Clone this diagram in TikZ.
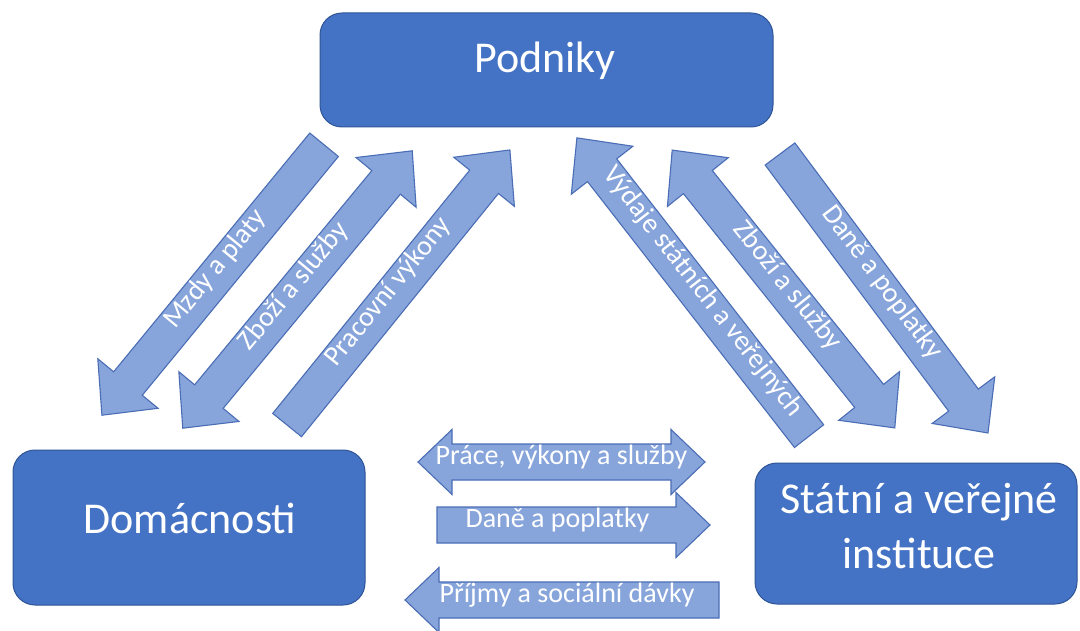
\documentclass[tikz,border=0pt]{standalone}
\usepackage{fontspec}
\setmainfont{Carlito}
\definecolor{boxblue}{HTML}{4472C4}
\definecolor{boxline}{HTML}{2F5597}
\definecolor{arrowfill}{HTML}{87A5DB}
\definecolor{arrowline}{HTML}{4A6DB5}
\tikzset{
  boxnode/.style={draw=boxline, line width=1pt, fill=boxblue, rounded corners=22pt, inner sep=0pt},
  boxtext/.style={text=white, font=\fontsize{44}{55}\selectfont, inner sep=0pt},
  arrowshape/.style={draw=arrowline, fill=arrowfill, line width=1.1pt, line join=miter},
  arrowtext/.style={text=white, font=\fontsize{28}{32}\selectfont, inner sep=0pt,
    text height=0.62em, text depth=0.12em}
}
% #1 name, #2 centre, #3 angle, #4 half length, #5 type (0 head at +x, 1 head at -x, 2 both), #6 text offset, #7 text
\newcommand{\BArrow}[7]{%
  \begin{scope}[shift={#2}, rotate=#3]
    \ifcase#5
      \draw[arrowshape] (-#4,-\sw) -- ({#4-\hl},-\sw) -- ({#4-\hl},-\hw) -- (#4,0)
        -- ({#4-\hl},\hw) -- ({#4-\hl},\sw) -- (-#4,\sw) -- cycle;
    \or
      \draw[arrowshape] (#4,-\sw) -- ({-#4+\hl},-\sw) -- ({-#4+\hl},-\hw) -- (-#4,0)
        -- ({-#4+\hl},\hw) -- ({-#4+\hl},\sw) -- (#4,\sw) -- cycle;
    \or
      \draw[arrowshape] (-#4,0) -- ({-#4+\hl},-\hw) -- ({-#4+\hl},-\sw) -- ({#4-\hl},-\sw)
        -- ({#4-\hl},-\hw) -- (#4,0) -- ({#4-\hl},\hw) -- ({#4-\hl},\sw)
        -- ({-#4+\hl},\sw) -- ({-#4+\hl},\hw) -- cycle;
    \fi
    \node[arrowtext, transform shape] (#1) at (#6,0) {#7};
  \end{scope}}

\begin{document}
\begin{tikzpicture}[x=1pt,y=1pt]
\useasboundingbox (0,0) rectangle (1080,-631);
\clip (0,0) rectangle (1080,-631);
\fill[white] (0,0) rectangle (1080,-631);

% boxes
\node[boxnode, minimum width=453pt, minimum height=114pt] (pod) at (546.5,-70) {};
\node[boxtext, anchor=base] (podT) at (545,-73) {Podniky};

\node[boxnode, minimum width=352pt, minimum height=155pt] (dom) at (189,-527.5) {};
\node[boxtext, anchor=base] (domT) at (190,-533) {Domácnosti};

\node[boxnode, minimum width=322pt, minimum height=141pt] (sta) at (916,-533.5) {};
\node[boxtext, anchor=base] (staT1) at (919,-513) {Státní a veřejné};
\node[boxtext, anchor=base] (staT2) at (919,-568) {instituce};

% diagonal arrows
\def\sw{18.5}\def\hw{39}\def\hl{41}
\BArrow{a1}{(213,-280)}{50.6}{175}{1}{10}{Mzdy a platy}
\BArrow{a2}{(297.5,-289.5)}{50.4}{180}{2}{0}{Zboží a služby}
\BArrow{a3}{(398.5,-287.5)}{51.0}{177}{0}{-10}{Pracovní výkony}
\BArrow{a4}{(693,-287)}{-52.1}{189}{1}{10}{Výdaje státních a veřejných}
\BArrow{a5}{(783.5,-289)}{-51.3}{178}{2}{0}{Zboží a služby}
\BArrow{a6}{(884,-293.5)}{-53.3}{174}{0}{-10}{Daně a poplatky}

% horizontal arrows
\def\sw{18}\def\hw{32.5}\def\hl{34}
\BArrow{h1}{(561.5,-462)}{0}{143.5}{2}{0}{Práce, výkony a služby}
\BArrow{h2}{(573.5,-525)}{0}{136.5}{0}{-16}{Daně a poplatky}
\BArrow{h3}{(562,-600)}{0}{157}{1}{5}{Příjmy a sociální dávky}
\end{tikzpicture}
\end{document}
